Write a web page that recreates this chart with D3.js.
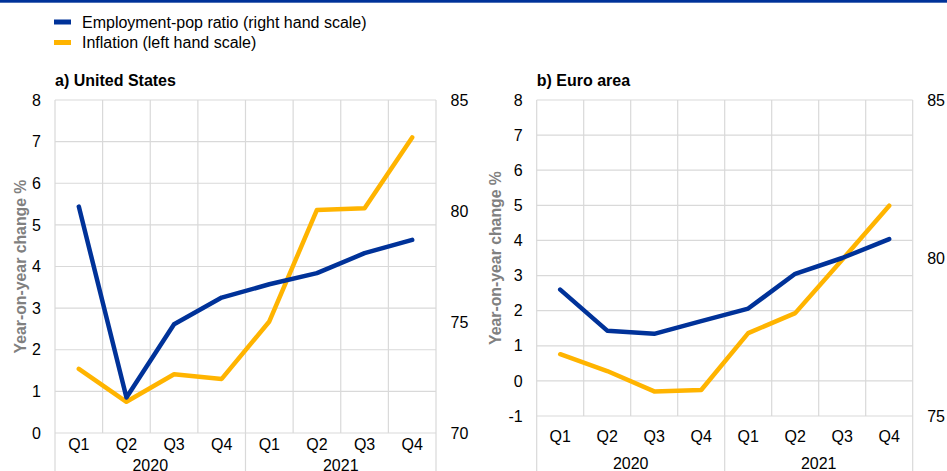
<!DOCTYPE html>
<html><head><meta charset="utf-8">
<script src="https://cdn.jsdelivr.net/npm/d3@7"></script>
<style>
body{margin:0;background:#fff;}
svg{display:block;font-family:"Liberation Sans",Arial,sans-serif;}
</style></head>
<body><svg id="c" width="947" height="471"></svg>
<script>
// ---- data ----
const quarters = ["Q1","Q2","Q3","Q4","Q1","Q2","Q3","Q4"];
const years = ["2020","2021"];
const usEmployment = [80.2, 71.6, 74.9, 76.1, 76.7, 77.2, 78.1, 78.7];
const usInflation  = [1.54, 0.75, 1.41, 1.30, 2.68, 5.36, 5.40, 7.10];
const euEmployment = [79.0, 77.7, 77.6, 78.0, 78.4, 79.5, 80.0, 80.6];
const euInflation  = [0.76, 0.28, -0.30, -0.26, 1.36, 1.93, 3.45, 4.99];
const usLeftTicks  = [0,1,2,3,4,5,6,7,8];
const usRightTicks = [70,75,80,85];
const euLeftTicks  = [-1,0,1,2,3,4,5,6,7,8];
const euRightTicks = [75,80,85];
const panelTitles  = ["a) United States","b) Euro area"];
const legendLabels = ["Employment-pop ratio (right hand scale)","Inflation (left hand scale)"];
const yTitle = "Year-on-year change %";

const BLUE = "#003299", ORANGE = "#FFB400", GRID = "#d9d9d9";
const FONT = "Liberation Sans, Arial, sans-serif";
const svg = d3.select("#c");

// top rule
svg.append("rect").attr("x",0).attr("y",0).attr("width",947).attr("height",2.7).attr("fill",BLUE);

// legend
[[BLUE,22,legendLabels[0]],[ORANGE,42.5,legendLabels[1]]].forEach(([c,y,t])=>{
  svg.append("rect").attr("x",54).attr("y",y-2.5).attr("width",17).attr("height",5).attr("fill",c);
  svg.append("text").attr("x",82).attr("y",y+5.7).attr("font-size",16).attr("fill","#000").text(t);
});

const panels = [
  {title:panelTitles[0], x0:55, x1:436, top:100, bottom:433, ld:[0,8], rd:[70,85],
   lt:usLeftTicks, rt:usRightTicks, emp:usEmployment, inf:usInflation, qy:449.5, yy:471, tx:20},
  {title:panelTitles[1], x0:536.7, x1:912.7, top:100, bottom:416, ld:[-1,8], rd:[75,85],
   lt:euLeftTicks, rt:euRightTicks, emp:euEmployment, inf:euInflation, qy:441.5, yy:469, tx:495}
];

panels.forEach(p=>{
  const g = svg.append("g");
  const idx = d3.range(quarters.length);
  const x = d3.scaleBand().domain(idx).range([p.x0,p.x1]).paddingInner(0).paddingOuter(0);
  const yl = d3.scaleLinear().domain(p.ld).range([p.bottom,p.top]);
  const yr = d3.scaleLinear().domain(p.rd).range([p.bottom,p.top]);

  // horizontal gridlines
  g.selectAll(".hg").data(p.lt).join("line")
    .attr("x1",p.x0).attr("x2",p.x1).attr("y1",d=>yl(d)).attr("y2",d=>yl(d))
    .attr("stroke",GRID).attr("stroke-width",1.2);
  // vertical gridlines at band edges
  const edges = idx.map(i=>x(i)).concat([p.x1]);
  g.selectAll(".vg").data(edges).join("line")
    .attr("x1",d=>d).attr("x2",d=>d).attr("y1",p.top)
    .attr("y2",(d,i)=> (i%4===0) ? 471 : p.bottom)
    .attr("stroke",GRID).attr("stroke-width",1.2);

  // left axis
  const la = g.append("g").attr("transform",`translate(${p.x0-14},0)`)
    .call(d3.axisLeft(yl).tickValues(p.lt).tickSize(0).tickPadding(0).tickFormat(d=>String(d)));
  la.select(".domain").remove();
  la.selectAll("text").attr("font-size",16).attr("fill","#000").attr("font-family",FONT);
  // right axis
  const ra = g.append("g").attr("transform",`translate(${p.x1+14.5},0)`)
    .call(d3.axisRight(yr).tickValues(p.rt).tickSize(0).tickPadding(0).tickFormat(d=>String(d)));
  ra.select(".domain").remove();
  ra.selectAll("text").attr("font-size",16).attr("fill","#000").attr("font-family",FONT);

  // bottom axis quarter labels
  const ba = g.append("g").attr("transform",`translate(0,${p.qy-11})`)
    .call(d3.axisBottom(x).tickSize(0).tickPadding(0).tickFormat(i=>quarters[i]));
  ba.select(".domain").remove();
  ba.selectAll("text").attr("font-size",16).attr("fill","#000").attr("font-family",FONT).attr("dy","0.71em");

  // year labels
  years.forEach((yv,k)=>{
    const cx = (x(k*4) + (k===years.length-1 ? p.x1 : x(k*4+4)))/2;
    g.append("text").attr("x",cx).attr("y",p.yy).attr("text-anchor","middle")
      .attr("font-size",16).attr("fill","#000").text(yv);
  });

  // title
  g.append("text").attr("x",p.x0).attr("y",86).attr("font-size",16).attr("font-weight","bold").text(p.title);
  // y axis title
  g.append("text").attr("transform",`translate(${p.tx},${(p.top+p.bottom)/2}) rotate(-90)`)
    .attr("text-anchor","middle").attr("dy","0.35em").attr("font-size",15.8).attr("font-weight","bold")
    .attr("fill","#808080").text(yTitle);

  const cx = i=>x(i)+x.bandwidth()/2;
  g.append("path").datum(p.inf).attr("fill","none").attr("stroke",ORANGE).attr("stroke-width",4.5)
    .attr("stroke-linejoin","round").attr("stroke-linecap","round")
    .attr("d",d3.line().x((d,i)=>cx(i)).y(d=>yl(d)));
  g.append("path").datum(p.emp).attr("fill","none").attr("stroke",BLUE).attr("stroke-width",4.5)
    .attr("stroke-linejoin","round").attr("stroke-linecap","round")
    .attr("d",d3.line().x((d,i)=>cx(i)).y(d=>yr(d)));
});
</script></body></html>
